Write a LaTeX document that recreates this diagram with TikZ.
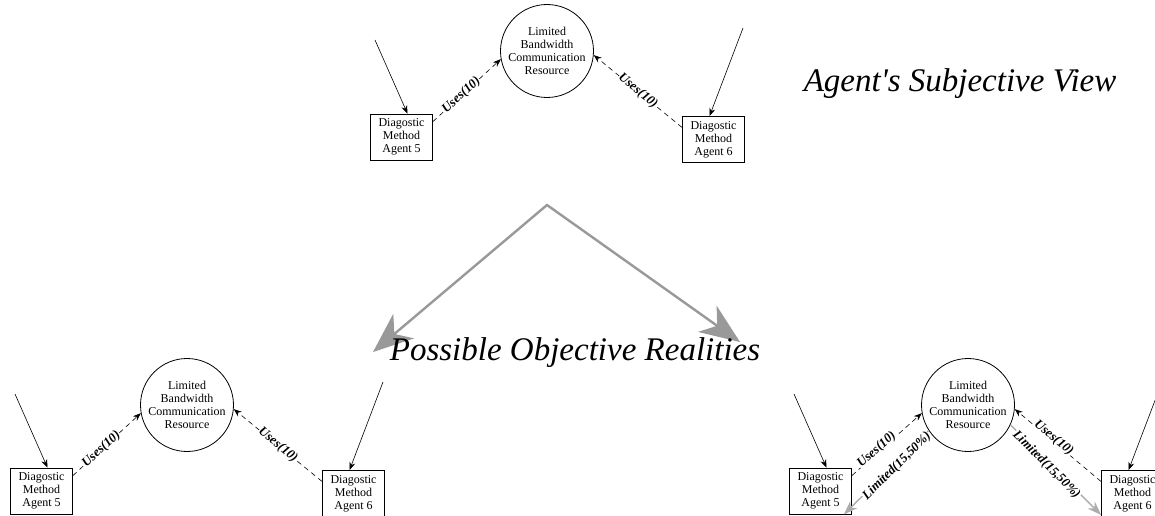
\documentclass[tikz,border=0pt]{standalone}
\usepackage{fontspec}
\setmainfont{Liberation Serif}
\usetikzlibrary{arrows.meta}

\begin{document}
\begin{tikzpicture}[
    x=1pt, y=-1pt,
    agent/.style={
        rectangle, draw, line width=0.8pt,
        minimum width=62pt, minimum height=46pt, inner sep=1pt,
        align=center, font=\fontsize{12}{13}\selectfont
    },
    chan/.style={
        circle, draw, line width=0.8pt,
        minimum size=93pt, inner sep=0pt,
        align=center, font=\fontsize{12}{13}\selectfont
    },
    feed/.style={-{Stealth[length=8pt, width=6pt]}, line width=0.6pt},
    uses/.style={feed, dash pattern=on 5pt off 4pt},
    limit/.style={-{Stealth[length=14pt, width=10pt]}, line width=1.4pt, draw=gray!65},
    big/.style={{Stealth[length=40pt, width=32pt, inset=12pt]}-{Stealth[length=40pt, width=32pt, inset=12pt]},
        line width=2.4pt, draw=gray!80},
    lbl/.style={font=\fontsize{13}{13}\selectfont\bfseries\itshape, fill=white, inner sep=0.5pt, sloped},
    title/.style={font=\fontsize{33}{36}\selectfont\itshape, anchor=base}
]
\useasboundingbox (0,0) rectangle (1155,516);

% agent's subjective view
\node[chan]  (bw) at (547,   51)    {Limited\\Bandwidth\\Communication\\Resource};
\node[agent] (a5) at (401.5, 137)   {Diagostic\\Method\\Agent 5};
\node[agent] (a6) at (713.5, 139.5) {Diagostic\\Method\\Agent 6};
\coordinate (in5) at (375, 40);
\coordinate (in6) at (743, 28);

\draw[feed] (in5) -- ([xshift=6pt]a5.north);
\draw[feed] (in6) -- ([xshift=-4pt]a6.north);
\draw[uses] ([yshift=-8pt]a5.north east) -- node[lbl, pos=0.42]{Uses(10)} (bw.190);
\draw[uses] ([yshift=12pt]a6.west) -- node[lbl, pos=0.5]{Uses(10)} (bw.355);

\node[title] (subj) at (960, 92) {Agent\textquotesingle s Subjective View};

% fork to the realities
\coordinate (fork)  at (547, 205);
\coordinate (tipL)  at (373, 352);
\coordinate (tipR)  at (740, 342);
\draw[big] (tipL) -- (fork) -- (tipR);

\node[title] (obj) at (575, 360) {Possible Objective Realities};

% reality 1
\node[chan]  (L-bw) at (187,   405)   {Limited\\Bandwidth\\Communication\\Resource};
\node[agent] (L-a5) at (41.5,  491)   {Diagostic\\Method\\Agent 5};
\node[agent] (L-a6) at (353.5, 493.5) {Diagostic\\Method\\Agent 6};
\coordinate (L-in5) at (15,  394);
\coordinate (L-in6) at (383, 382);

\draw[feed] (L-in5) -- ([xshift=6pt]L-a5.north);
\draw[feed] (L-in6) -- ([xshift=-4pt]L-a6.north);
\draw[uses] ([yshift=-8pt]L-a5.north east) -- node[lbl, pos=0.42]{Uses(10)} (L-bw.190);
\draw[uses] ([yshift=12pt]L-a6.west) -- node[lbl, pos=0.5]{Uses(10)} (L-bw.355);

% reality 2
\node[chan]  (R-bw) at (968,    405)   {Limited\\Bandwidth\\Communication\\Resource};
\node[agent] (R-a5) at (820.5,  491)   {Diagostic\\Method\\Agent 5};
\node[agent] (R-a6) at (1132.5, 493.5) {Diagostic\\Method\\Agent 6};
\coordinate (R-in5) at (794,  394);
\coordinate (R-in6) at (1162, 382);

\draw[feed] (R-in5) -- ([xshift=6pt]R-a5.north);
\draw[feed] (R-in6) -- ([xshift=-4pt]R-a6.north);
\draw[uses] ([yshift=-8pt]R-a5.north east) -- node[lbl, pos=0.38, above=-4pt]{Uses(10)} (R-bw.190);
\draw[uses] ([yshift=12pt]R-a6.west) -- node[lbl, pos=0.57, above=-4pt]{Uses(10)} (R-bw.355);
\draw[limit] (R-bw.213) -- node[lbl, pos=0.4, below=-4pt]{Limited(15,50\%)} ([xshift=-8pt]R-a5.south east);
\draw[limit] (R-bw.335) -- node[lbl, pos=0.42, below=-4pt]{Limited(15,50\%)} ([yshift=2pt]R-a6.south west);

\end{tikzpicture}
\end{document}
